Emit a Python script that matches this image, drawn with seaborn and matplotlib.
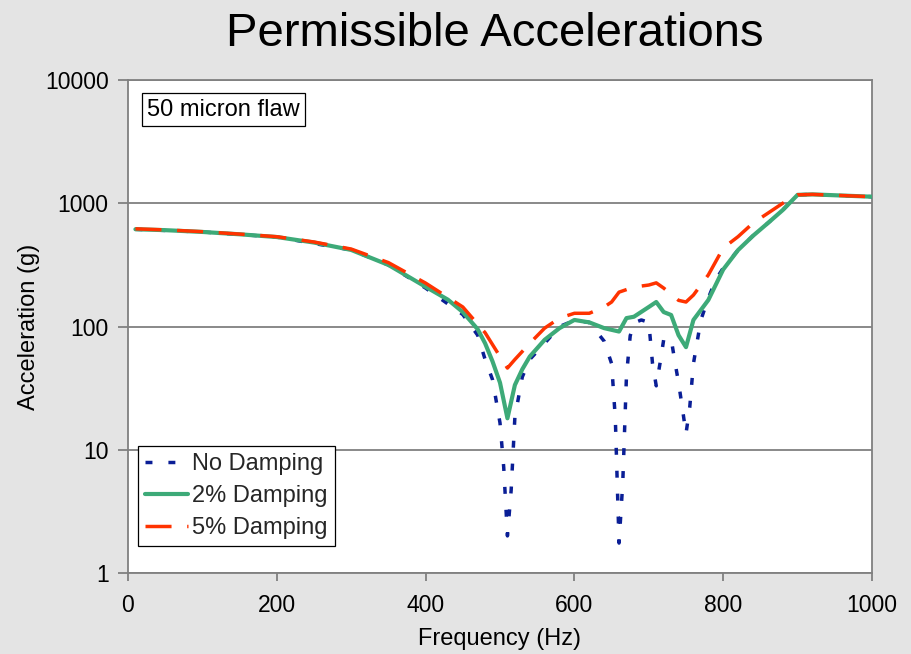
import matplotlib
matplotlib.use("Agg")
import matplotlib.pyplot as plt
import seaborn as sns
import pandas as pd
from matplotlib.ticker import FixedLocator, NullLocator, FixedFormatter

# ---------------- data ----------------
freq_none = [10, 100, 200, 300, 350, 400, 450, 470, 480, 490, 500, 505, 510, 515, 520, 530,
             540, 560, 580, 600, 620, 640, 650, 655, 660, 665, 670, 675, 680, 690, 700, 705,
             710, 715, 720, 730, 735, 740, 745, 750, 755, 760, 770, 780, 790, 800, 820, 840,
             860, 880, 900, 920, 1000]
acc_none = [615, 585, 532, 418, 316, 205, 125, 85, 54, 37, 16.5, 7.2, 2.0, 4.7, 18.4, 39,
            54, 73, 100, 112, 108, 76, 50, 18, 1.75, 5.4, 40, 84, 107, 113, 108, 50,
            33, 50, 78, 80, 52, 35, 22, 13.5, 22, 50, 113, 170, 240, 298, 417, 544,
            690, 880, 1170, 1180, 1130]

freq_2 = [10, 50, 100, 150, 200, 250, 300, 350, 400, 430, 450, 470, 480, 490, 500, 510, 520,
          530, 540, 560, 580, 600, 620, 640, 660, 670, 680, 700, 710, 720, 730, 740, 750, 760,
          780, 800, 820, 840, 860, 880, 900, 920, 1000]
acc_2 = [615, 605, 585, 560, 532, 480, 418, 316, 210, 165, 131, 95, 73, 52, 35, 18, 33.5,
         45, 57, 78, 97, 113, 108, 97, 91, 117, 120, 144, 158, 131, 124, 85, 68, 113,
         164, 290, 417, 544, 690, 880, 1170, 1180, 1130]

freq_5 = [10, 50, 100, 150, 200, 250, 300, 350, 400, 450, 480, 500, 510, 520, 540, 560, 580,
          600, 620, 640, 650, 660, 680, 700, 710, 720, 740, 750, 760, 780, 800, 820, 840, 860,
          880, 900, 920, 1000]
acc_5 = [620, 608, 588, 562, 535, 485, 425, 330, 225, 144, 89, 57, 46, 54, 73, 97, 117,
         128, 128, 144, 158, 190, 209, 217, 226, 205, 163, 158, 180, 262, 433, 536, 690, 830,
         1000, 1170, 1180, 1130]

series_names = ["No Damping", "2% Damping", "5% Damping"]
y_ticks = [1, 10, 100, 1000, 10000]
y_tick_labels = ["1", "10", "100", "1000", "10000"]
x_ticks = [0, 200, 400, 600, 800, 1000]

# ---------------- style ----------------
sns.set_theme(style="white")
plt.rcParams["font.family"] = ["Liberation Sans", "DejaVu Sans"]
BG = "#E4E4E4"
GRAY = "#808080"

fig = plt.figure(figsize=(9.12, 6.54), dpi=100, facecolor=BG)
ax = fig.add_axes([128 / 912, 1 - 573 / 654, 744 / 912, 493 / 654])
ax.set_facecolor("white")

df_none = pd.DataFrame({"Frequency": freq_none, "Acceleration": acc_none})
df_2 = pd.DataFrame({"Frequency": freq_2, "Acceleration": acc_2})
df_5 = pd.DataFrame({"Frequency": freq_5, "Acceleration": acc_5})

sns.lineplot(data=df_none, x="Frequency", y="Acceleration", ax=ax, color="#0A1E96",
             linewidth=2.5, linestyle=(0, (2.0, 4.6)), estimator=None, sort=False,
             label=series_names[0], zorder=3)
sns.lineplot(data=df_2, x="Frequency", y="Acceleration", ax=ax, color="#3DAA78",
             linewidth=3.0, estimator=None, sort=False, label=series_names[1], zorder=4)
sns.lineplot(data=df_5, x="Frequency", y="Acceleration", ax=ax, color="#FF3300",
             linewidth=2.5, linestyle=(0, (7.5, 4.5)), estimator=None, sort=False,
             label=series_names[2], zorder=5)

ax.set_yscale("log")
ax.set_xlim(0, 1000)
ax.set_ylim(1, 10000)
ax.yaxis.set_major_locator(FixedLocator(y_ticks))
ax.yaxis.set_major_formatter(FixedFormatter(y_tick_labels))
ax.yaxis.set_minor_locator(NullLocator())
ax.xaxis.set_major_locator(FixedLocator(x_ticks))
ax.xaxis.set_minor_locator(NullLocator())

ax.grid(True, axis="y", color=GRAY, linewidth=1.3)
ax.grid(False, axis="x")
for sp in ax.spines.values():
    sp.set_visible(True)
    sp.set_color(GRAY)
    sp.set_linewidth(1.3)

ax.tick_params(axis="both", which="major", direction="out", length=6, width=1.3,
               color=GRAY, labelsize=16.5, labelcolor="black")
ax.tick_params(axis="y", length=7, pad=7, left=True)
ax.tick_params(axis="x", bottom=True, pad=9)

ax.set_xlabel("Frequency (Hz)", fontsize=17, color="black")
ax.set_ylabel("Acceleration (g)", fontsize=17, color="black")
ax.xaxis.set_label_coords(0.5, -0.112)
ax.yaxis.set_label_coords(-0.118, 0.5)

fig.text(495 / 912, 1 - 46 / 654, "Permissible Accelerations", fontsize=34,
         ha="center", va="baseline", color="black")

ax.text(0.0255, 0.940, "50 micron flaw", transform=ax.transAxes, fontsize=17,
        va="center", ha="left", color="black",
        bbox=dict(boxstyle="square,pad=0.22", fc="white", ec="black", lw=0.9))

leg = ax.legend(loc="lower left", bbox_to_anchor=(10 / 744, 27 / 493), borderaxespad=0,
                fontsize=17, frameon=True, fancybox=False, framealpha=1,
                edgecolor="black", handlelength=1.8, handletextpad=0.2,
                labelspacing=0.42, borderpad=0.3)
leg.get_frame().set_linewidth(0.9)

fig.savefig("out.png", dpi=100, facecolor=BG)
